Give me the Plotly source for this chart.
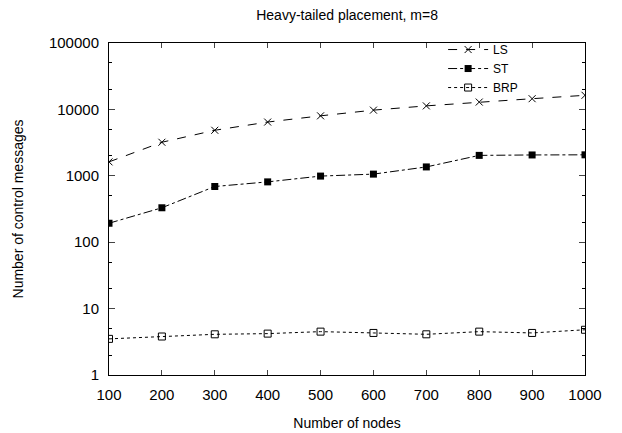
import plotly.graph_objects as go

nodes = [100, 200, 300, 400, 500, 600, 700, 800, 900, 1000]
ls_vals = [1620, 3200, 4850, 6450, 8000, 9750, 11300, 12900, 14500, 16300]
st_vals = [193, 330, 690, 810, 990, 1060, 1360, 2030, 2060, 2070]
brp_vals = [3.5, 3.8, 4.1, 4.2, 4.5, 4.3, 4.1, 4.5, 4.3, 4.8]

y_tickvals = [1, 10, 100, 1000, 10000, 100000]
y_ticktext = ["1", "10", "100", "1000", "10000", "100000"]
y_minor = [m * 10 ** e for e in range(0, 5) for m in (2, 5)]

FONT = "Liberation Sans, Arial, sans-serif"

fig = go.Figure()
fig.add_trace(go.Scatter(
    x=nodes, y=ls_vals, name="LS", mode="lines+markers",
    line=dict(color="black", width=1, dash="dash"),
    marker=dict(symbol="x-thin-open", size=7, color="black",
                line=dict(color="black", width=1)),
))
fig.add_trace(go.Scatter(
    x=nodes, y=st_vals, name="ST", mode="lines+markers",
    line=dict(color="black", width=1, dash="dashdot"),
    marker=dict(symbol="square", size=7, color="black"),
))
fig.add_trace(go.Scatter(
    x=nodes, y=brp_vals, name="BRP", mode="lines+markers",
    line=dict(color="black", width=1, dash="dot"),
    marker=dict(symbol="square-open", size=7, color="black",
                line=dict(color="black", width=1)),
))

fig.update_layout(
    width=622, height=433,
    margin=dict(l=109, r=37, t=43, b=58),
    paper_bgcolor="white", plot_bgcolor="white",
    font=dict(family=FONT, size=15, color="black"),
    title=dict(text="Heavy-tailed placement, m=8", x=0.558, xanchor="center",
               y=0.965, yanchor="middle", font=dict(size=14, family=FONT, color="black")),
    showlegend=True,
    legend=dict(x=0.87, y=1.024, xanchor="right", yanchor="top",
                bgcolor="rgba(0,0,0,0)", font=dict(size=12, family=FONT),
                tracegroupgap=0, itemwidth=40),
)
fig.update_xaxes(
    range=[100, 1000], tickvals=nodes, ticks="inside", ticklen=5,
    ticklabelstandoff=6, automargin=False,
    showline=True, linecolor="black", linewidth=1, mirror="ticks",
    showgrid=False, zeroline=False, tickfont=dict(size=15),
    title=dict(text="Number of nodes", font=dict(size=14), standoff=16),
)
fig.update_yaxes(
    type="log", range=[0, 5], tickvals=y_tickvals, ticktext=y_ticktext,
    ticks="inside", ticklen=6, ticklabelstandoff=6, automargin=False,
    minor=dict(tickmode="array", tickvals=y_minor, ticks="inside", ticklen=3,
               tickcolor="black", showgrid=False),
    showline=True, linecolor="black", linewidth=1, mirror="ticks",
    showgrid=False, zeroline=False, tickfont=dict(size=15),
    title=dict(text="Number of control messages", font=dict(size=14), standoff=22),
)

fig.write_html("out.html")
